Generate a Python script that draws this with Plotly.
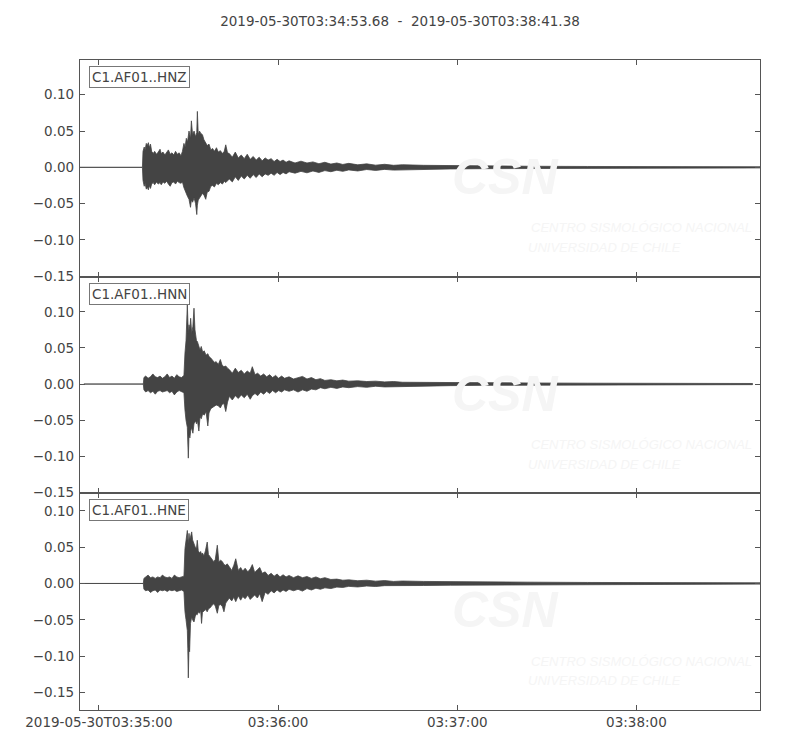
import pandas as pd
import plotly.graph_objects as go
from plotly.subplots import make_subplots

# ---------------- data ----------------
START = "2019-05-30T03:34:53.68"
END = "2019-05-30T03:38:41.38"
TITLE = "2019-05-30T03:34:53.68\u00a0\u00a0-\u00a0\u00a02019-05-30T03:38:41.38"
channels = ["C1.AF01..HNZ", "C1.AF01..HNN", "C1.AF01..HNE"]

x_tick_times = ["2019-05-30T03:35:00", "2019-05-30T03:36:00",
                "2019-05-30T03:37:00", "2019-05-30T03:38:00"]
x_tick_labels = ["2019-05-30T03:35:00", "03:36:00", "03:37:00", "03:38:00"]
y_ranges = [[-0.1505, 0.1478], [-0.1512, 0.1486], [-0.1742, 0.1241]]

# envelope of each trace: seconds after START, upper and lower amplitude
hnz_t = [0, 20.9, 21.1, 21.5, 21.8, 22.2, 22.5, 22.9, 23.2, 23.6, 24.0, 24.5, 25.0,
         25.6, 26.2, 26.8, 27.2, 27.8, 28.4, 29.0, 29.6, 30.2, 30.8, 31.4, 32.0,
         32.6, 33.2, 33.8, 34.3, 34.8, 35.2, 35.6, 36.0, 36.5, 37.0, 37.3, 37.7,
         38.2, 38.7, 39.1, 39.3, 39.6, 40.0, 40.4, 41.0, 41.5, 42.1, 42.6, 43.2,
         43.8, 44.4, 45.0, 45.7, 46.3, 47.0, 47.7, 48.3, 48.8, 49.4,
         50, 51, 52, 53, 54, 55, 56, 57, 58, 59, 60, 61, 62, 63, 64, 65, 66, 67,
         68, 69, 70, 72, 74, 76, 78, 80, 82, 84, 86, 88, 90, 93, 96, 99, 102, 105,
         108, 115, 124, 135, 150, 170, 190, 210, 227.7]
hnz_up = [0, 0, 0.022, 0.028, 0.024, 0.033, 0.030, 0.034, 0.027, 0.032, 0.022, 0.019,
          0.022, 0.018, 0.021, 0.025, 0.019, 0.021, 0.017, 0.020, 0.024, 0.018, 0.020,
          0.017, 0.022, 0.018, 0.020, 0.016, 0.022, 0.033, 0.028, 0.040, 0.035, 0.050,
          0.040, 0.064, 0.045, 0.050, 0.042, 0.048, 0.077, 0.045, 0.050, 0.047, 0.045,
          0.038, 0.034, 0.030, 0.032, 0.024, 0.026, 0.022, 0.027, 0.021, 0.023, 0.019,
          0.022, 0.031, 0.020,
          0.019, 0.014, 0.021, 0.013, 0.017, 0.012, 0.018, 0.011, 0.015, 0.010, 0.014,
          0.009, 0.013, 0.010, 0.012, 0.008, 0.011, 0.008, 0.010, 0.007, 0.009, 0.006,
          0.0085, 0.006, 0.0075, 0.005, 0.007, 0.0045, 0.006, 0.004, 0.0055, 0.0035,
          0.0048, 0.003, 0.0042, 0.0028, 0.0036,
          0.0028, 0.0022, 0.0018, 0.0015, 0.0012, 0.001, 0.0008, 0.0008]
hnz_lo = [0, 0, -0.018, -0.026, -0.022, -0.030, -0.027, -0.031, -0.025, -0.029, -0.023,
          -0.021, -0.024, -0.020, -0.023, -0.021, -0.024, -0.020, -0.022, -0.019,
          -0.023, -0.026, -0.021, -0.020, -0.023, -0.019, -0.021, -0.022, -0.020,
          -0.028, -0.032, -0.036, -0.040, -0.044, -0.055, -0.045, -0.048, -0.042,
          -0.050, -0.065, -0.052, -0.045, -0.044, -0.040, -0.036, -0.038, -0.044,
          -0.034, -0.033, -0.026, -0.025, -0.027, -0.022, -0.024, -0.021, -0.023,
          -0.019, -0.021, -0.018,
          -0.016, -0.020, -0.013, -0.018, -0.012, -0.016, -0.011, -0.015, -0.010,
          -0.014, -0.009, -0.013, -0.009, -0.011, -0.008, -0.011, -0.007, -0.010,
          -0.007, -0.009, -0.006, -0.008, -0.0055, -0.0075, -0.005, -0.007, -0.0045,
          -0.006, -0.004, -0.0055, -0.0035, -0.005, -0.003, -0.0042, -0.0028,
          -0.0038, -0.0026,
          -0.0027, -0.0022, -0.0018, -0.0015, -0.0012, -0.001, -0.0008, -0.0008]

hnn_t = [1.3, 21.2, 21.4, 22.0, 22.8, 23.6, 24.4, 25.2, 26.0, 26.8, 27.6, 28.4, 29.2,
         30.0, 30.8, 31.6, 32.4, 33.2, 34.0, 34.8, 35.15, 35.5, 35.94, 36.1, 36.27,
         36.5, 36.8, 37.05, 37.4, 37.8, 38.17, 38.5, 38.74, 39.0, 39.3, 39.8, 40.2,
         40.6, 41.1, 41.6, 42.2, 42.8, 43.2, 43.8, 44.3, 45.0, 45.6, 46.3, 47.0,
         47.6, 48.2, 48.8, 49.4,
         50, 51, 52, 53, 54, 55, 56, 57, 57.7, 58.6, 59.5, 60.5, 61.5, 62.5, 63.5,
         64.5, 65.5, 66.5, 67.5, 68.5, 70, 71.5, 73, 74.5, 76, 77.5, 79, 80.5, 82,
         84, 86, 88, 90, 93, 96, 99, 102, 105, 108,
         115, 124, 135, 150, 170, 190, 210, 225.2]
hnn_up = [0, 0, 0.009, 0.011, 0.008, 0.010, 0.014, 0.010, 0.009, 0.011, 0.008, 0.010,
          0.014, 0.009, 0.011, 0.008, 0.013, 0.010, 0.009, 0.012, 0.043, 0.060, 0.110,
          0.085, 0.070, 0.082, 0.075, 0.091, 0.070, 0.080, 0.105, 0.075, 0.068, 0.060,
          0.059, 0.050, 0.047, 0.052, 0.044, 0.046, 0.040, 0.042, 0.038, 0.036, 0.034,
          0.030, 0.031, 0.027, 0.034, 0.026, 0.024, 0.025, 0.022,
          0.020, 0.015, 0.022, 0.016, 0.019, 0.014, 0.018, 0.015, 0.024, 0.013, 0.015,
          0.011, 0.014, 0.010, 0.013, 0.009, 0.012, 0.008, 0.011, 0.008, 0.010, 0.007,
          0.009, 0.0106, 0.007, 0.009, 0.006, 0.0075, 0.005, 0.006, 0.0045, 0.0055,
          0.004, 0.0045, 0.0035, 0.004, 0.003, 0.0035, 0.0025,
          0.0025, 0.0022, 0.0018, 0.0015, 0.0012, 0.001, 0.0008, 0.0008]
hnn_lo = [0, 0, -0.008, -0.011, -0.009, -0.012, -0.010, -0.014, -0.010, -0.009, -0.011,
          -0.010, -0.009, -0.012, -0.010, -0.015, -0.011, -0.009, -0.010, -0.012,
          -0.036, -0.050, -0.060, -0.080, -0.1025, -0.070, -0.0745, -0.065, -0.060,
          -0.068, -0.055, -0.052, -0.0515, -0.055, -0.050, -0.065, -0.045, -0.048,
          -0.041, -0.043, -0.038, -0.058, -0.040, -0.034, -0.033, -0.031, -0.029,
          -0.030, -0.033, -0.028, -0.027, -0.038, -0.025,
          -0.017, -0.022, -0.016, -0.020, -0.015, -0.019, -0.014, -0.021, -0.016,
          -0.013, -0.016, -0.011, -0.014, -0.010, -0.013, -0.009, -0.012, -0.009,
          -0.011, -0.008, -0.010, -0.008, -0.011, -0.008, -0.010, -0.007, -0.008,
          -0.005, -0.0065, -0.0045, -0.006, -0.004, -0.005, -0.0035, -0.0045, -0.003,
          -0.004, -0.0028, -0.0032,
          -0.0028, -0.0022, -0.0018, -0.0015, -0.0012, -0.001, -0.0008, -0.0008]

hne_t = [0, 21.2, 21.4, 22.0, 22.8, 23.6, 24.4, 25.2, 26.0, 26.8, 27.6, 28.4, 29.2,
         30.0, 30.8, 31.6, 32.4, 33.2, 34.0, 34.8, 35.15, 35.5, 35.94, 36.1, 36.27,
         36.5, 36.7, 37.0, 37.4, 37.7, 38.17, 38.6, 39.0, 39.27, 39.6, 40.0, 40.4,
         40.7, 41.0, 41.5, 42.0, 42.6, 43.0, 43.7, 44.2, 44.8, 45.3, 45.98, 46.5,
         47.1, 47.7, 48.2, 48.8, 49.3,
         50, 50.8, 51.5, 52.15, 53, 53.8, 54.5, 55.3, 56.2, 57, 57.71, 58.5, 59.4,
         60.2, 61, 62, 63, 64, 65, 66, 67, 68, 69, 70, 71.5, 73, 74.5, 76, 77.5, 79,
         80.5, 82, 84, 86, 88, 90, 93, 96, 99, 102, 105, 108,
         115, 124, 135, 150, 170, 190, 210, 227.7]
hne_up = [0, 0, 0.007, 0.009, 0.0115, 0.008, 0.009, 0.007, 0.009, 0.008, 0.0115, 0.009,
          0.008, 0.009, 0.007, 0.0115, 0.009, 0.008, 0.009, 0.010, 0.048, 0.060, 0.073,
          0.062, 0.055, 0.069, 0.060, 0.064, 0.071, 0.060, 0.053, 0.050, 0.048, 0.0595,
          0.045, 0.042, 0.044, 0.040, 0.042, 0.038, 0.045, 0.057, 0.040, 0.036, 0.034,
          0.030, 0.033, 0.0527, 0.030, 0.032, 0.030, 0.026, 0.025, 0.027,
          0.023, 0.018, 0.025, 0.034, 0.018, 0.022, 0.017, 0.021, 0.016, 0.020, 0.026,
          0.015, 0.019, 0.022, 0.014, 0.016, 0.011, 0.014, 0.010, 0.013, 0.009, 0.012,
          0.009, 0.011, 0.008, 0.0105, 0.008, 0.0095, 0.007, 0.009, 0.0065, 0.008,
          0.0055, 0.006, 0.0045, 0.005, 0.0038, 0.0045, 0.0032, 0.004, 0.0028, 0.0034,
          0.0028, 0.0024, 0.002, 0.0018, 0.0014, 0.0012, 0.001, 0.0009]
hne_lo = [0, 0, -0.008, -0.010, -0.009, -0.0124, -0.010, -0.009, -0.0124, -0.009,
          -0.010, -0.009, -0.011, -0.009, -0.010, -0.009, -0.011, -0.010, -0.009,
          -0.011, -0.039, -0.050, -0.065, -0.090, -0.130, -0.085, -0.094, -0.055,
          -0.046, -0.050, -0.053, -0.045, -0.042, -0.043, -0.039, -0.041, -0.037,
          -0.055, -0.040, -0.038, -0.036, -0.039, -0.035, -0.033, -0.030, -0.028,
          -0.031, -0.041, -0.030, -0.029, -0.032, -0.039, -0.027, -0.025,
          -0.020, -0.024, -0.019, -0.025, -0.017, -0.023, -0.018, -0.021, -0.016,
          -0.022, -0.019, -0.016, -0.020, -0.014, -0.025, -0.012, -0.015, -0.010,
          -0.013, -0.009, -0.012, -0.009, -0.011, -0.008, -0.010, -0.008, -0.0105,
          -0.007, -0.009, -0.0065, -0.008, -0.006, -0.007, -0.005, -0.0055, -0.004,
          -0.0048, -0.0035, -0.0042, -0.003, -0.0036, -0.0027,
          -0.0028, -0.0024, -0.002, -0.0018, -0.0014, -0.0012, -0.001, -0.0009]

traces = [(hnz_t, hnz_up, hnz_lo), (hnn_t, hnn_up, hnn_lo), (hne_t, hne_up, hne_lo)]
for name, (t, up, lo) in zip(channels, traces):
    assert len(t) == len(up) == len(lo), (name, len(t), len(up), len(lo))

# ---------------- figure ----------------
TXT = "#444444"
AX = "#555555"
WAVE = "#444444"
WM = "#f5f5f5"
FONT = "DejaVu Sans"

start = pd.Timestamp(START)
fig = make_subplots(rows=3, cols=1, shared_xaxes=True, vertical_spacing=0)

for i, (t, up, lo) in enumerate(traces, start=1):
    ts = [start + pd.to_timedelta(v, unit="s") for v in t]
    xs = ts + ts[::-1]
    ys = list(up) + list(lo)[::-1]
    fig.add_trace(go.Scatter(x=xs, y=ys, mode="lines", fill="toself",
                             fillcolor=WAVE, line=dict(color=WAVE, width=0.8),
                             hoverinfo="skip", showlegend=False), row=i, col=1)

for i in range(1, 4):
    xref = "x domain" if i == 1 else f"x{i} domain"
    yref = "y domain" if i == 1 else f"y{i} domain"
    # faint CSN watermark
    fig.add_annotation(xref=xref, yref=yref, x=0.625, y=0.46, xanchor="center",
                       yanchor="middle", text="<b><i>CSN</i></b>", showarrow=False,
                       font=dict(family="Liberation Sans", size=50, color=WM))
    fig.add_annotation(xref=xref, yref=yref, x=0.826, y=0.225, xanchor="center",
                       yanchor="middle", text="<i>CENTRO SISMOLÓGICO NACIONAL</i>",
                       showarrow=False,
                       font=dict(family="Liberation Sans", size=13, color=WM))
    fig.add_annotation(xref=xref, yref=yref, x=0.771, y=0.135, xanchor="center",
                       yanchor="middle", text="<i>UNIVERSIDAD DE CHILE</i>",
                       showarrow=False,
                       font=dict(family="Liberation Sans", size=13, color=WM))
    # channel label box
    fig.add_annotation(xref=xref, yref=yref, x=0.0135, y=0.972, xanchor="left",
                       yanchor="top", text=channels[i - 1], showarrow=False,
                       font=dict(family=FONT, size=13.5, color=TXT),
                       bgcolor="white", bordercolor="#777777", borderwidth=1,
                       borderpad=2)

fig.update_xaxes(type="date", range=[START, END], tickvals=x_tick_times,
                 ticktext=x_tick_labels, ticks="inside", ticklen=5, tickwidth=1,
                 tickcolor=AX, showline=True, linecolor=AX, linewidth=1.3,
                 mirror="ticks", showgrid=False, zeroline=False,
                 tickfont=dict(family=FONT, size=13.5, color=TXT))
for i in range(1, 4):
    fig.update_yaxes(range=y_ranges[i - 1], tick0=0, dtick=0.05, tickformat=".2f",
                     ticks="inside", ticklen=5, tickwidth=1, tickcolor=AX,
                     showline=True, linecolor=AX, linewidth=1.3, mirror="ticks",
                     showgrid=False, zeroline=False, ticklabelstandoff=2,
                     tickfont=dict(family=FONT, size=13.5, color=TXT), row=i, col=1)

# the page body adds an 8 px offset; margins compensate so the plot area sits at
# x 80-760, y 60-710 in the window
fig.update_layout(
    width=800, height=750,
    margin=dict(l=72, r=48, t=52, b=48),
    paper_bgcolor="white", plot_bgcolor="white",
    font=dict(family=FONT, color=TXT),
    title=dict(text=TITLE, x=392 / 800, xref="container", xanchor="center",
               y=1 - 13 / 750, yref="container", yanchor="middle",
               font=dict(family=FONT, size=13.5, color=TXT)),
)

fig.write_html("out.html")
